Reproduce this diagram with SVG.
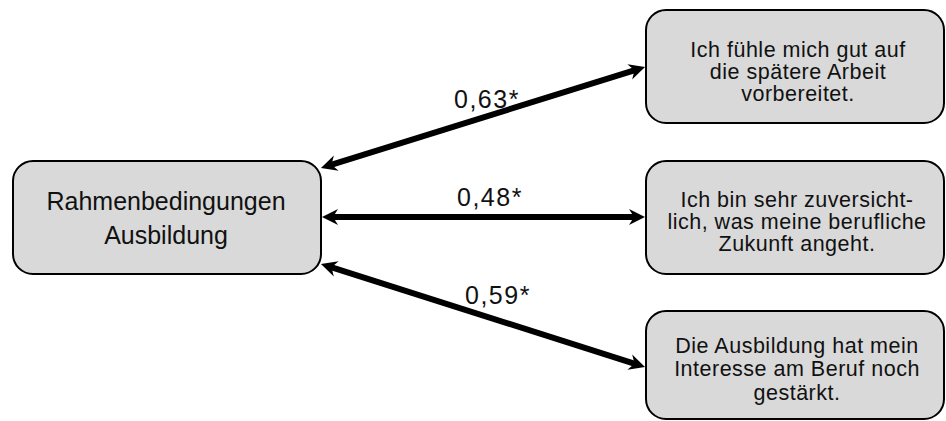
<svg xmlns="http://www.w3.org/2000/svg" width="946" height="421" viewBox="0 0 946 421">
<style>
.box{fill:#d9d9d9;stroke:#000;stroke-width:2}
.big{font-family:"Liberation Sans",Arial,sans-serif;font-size:25px;fill:#111;text-anchor:middle}
.small{font-family:"Liberation Sans",Arial,sans-serif;font-size:21.5px;fill:#111;text-anchor:middle;letter-spacing:0.5px}
.lbl{font-family:"Liberation Sans",Arial,sans-serif;font-size:25px;fill:#111;letter-spacing:1.5px}
.conn{stroke:#000;stroke-width:6;fill:none;marker-start:url(#ah);marker-end:url(#ah)}
</style>
<defs>
<marker id="ah" markerUnits="userSpaceOnUse" markerWidth="20" markerHeight="20" viewBox="-10 -10 20 20" refX="0" refY="0" orient="auto-start-reverse" overflow="visible">
<path d="M8,0 L-8,-8 L-3,0 L-8,8 Z" fill="#000"/>
</marker>
</defs>
<rect width="946" height="421" fill="#fff"/>
<g id="connectors">
<line class="conn" x1="328.6" y1="165.6" x2="637.4" y2="69.4"/>
<line class="conn" x1="330" y1="217" x2="637" y2="217"/>
<line class="conn" x1="328.6" y1="266.4" x2="637.4" y2="364.6"/>
<text class="lbl" x="454" y="108">0,63*</text>
<text class="lbl" x="457" y="206">0,48*</text>
<text class="lbl" x="465" y="304">0,59*</text>
</g>
<g id="node-rahmen">
<rect class="box" x="13" y="161" width="308" height="113" rx="20"/>
<text class="big" x="166" y="210">Rahmenbedingungen</text>
<text class="big" x="166" y="244">Ausbildung</text>
</g>
<g id="node-arbeit">
<rect class="box" x="646" y="10" width="298" height="113" rx="20"/>
<text class="small" x="798" y="57">Ich fühle mich gut auf</text>
<text class="small" x="798" y="79">die spätere Arbeit</text>
<text class="small" x="798" y="101">vorbereitet.</text>
</g>
<g id="node-zukunft">
<rect class="box" x="646" y="161" width="298" height="113" rx="20"/>
<text class="small" x="797" y="207">Ich bin sehr zuversicht-</text>
<text class="small" x="797" y="229">lich, was meine berufliche</text>
<text class="small" x="797" y="251">Zukunft angeht.</text>
</g>
<g id="node-interesse">
<rect class="box" x="646" y="311" width="298" height="108" rx="20"/>
<text class="small" x="797" y="353">Die Ausbildung hat mein</text>
<text class="small" x="797" y="376">Interesse am Beruf noch</text>
<text class="small" x="797" y="400">gestärkt.</text>
</g>
</svg>
